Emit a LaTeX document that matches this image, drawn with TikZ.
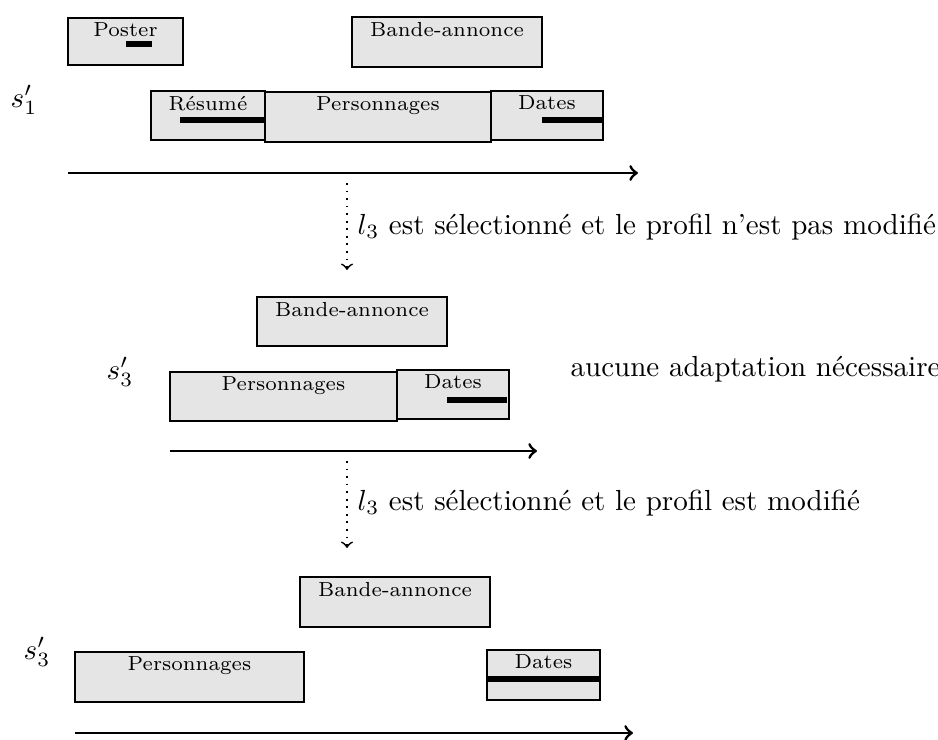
\documentclass[tikz,border=0pt]{standalone}
\usetikzlibrary{positioning}
\tikzset{
  seg/.style={draw=black, fill=gray!20, line width=1pt},
  seglabel/.style={anchor=north, inner sep=1.5pt, font=\fontsize{7}{8}\selectfont},
  bar/.style={fill=black},
  timeline/.style={->, line width=1pt},
  transition/.style={->, dotted, line width=0.6pt},
}
\begin{document}
\begin{tikzpicture}[x=0.3442pt,y=-0.3442pt]
\useasboundingbox (0,0) rectangle (938,740);

% s'_1
\node (sa) at (24,100) {$s'_1$};
\draw[seg] (68,18) rectangle (183,65);
\node[seglabel] (poster) at (125.5,18) {Poster};
\fill[bar] (126,41) rectangle (152,47);
\draw[seg] (352,17) rectangle (542,67);
\node[seglabel] (bandea) at (447,17) {Bande-annonce};
\draw[seg] (151,91) rectangle (265,140);
\node[seglabel] (resume) at (208,91) {Résumé};
\fill[bar] (180,117) rectangle (265,123);
\draw[seg] (265,92) rectangle (491,142);
\node[seglabel] (persa) at (378,92) {Personnages};
\draw[seg] (491,91) rectangle (603,140);
\node[seglabel] (datesa) at (547,91) {Dates};
\fill[bar] (542,117) rectangle (602,123);
\coordinate (ta0) at (68,173);
\coordinate (ta1) at (638,173);
\draw[timeline] (ta0) -- (ta1);

\coordinate (da0) at (347,183);
\coordinate (da1) at (347,270);
\draw[transition] (da0) -- (da1);
\node[anchor=west, inner sep=0pt] (stepa) at (357,227) {$l_3$ est sélectionné et le profil n'est pas modifié};

% s'_3, profil inchange
\node (sb) at (120,372) {$s'_3$};
\draw[seg] (257,297) rectangle (447,346);
\node[seglabel] (bandeb) at (352,297) {Bande-annonce};
\draw[seg] (170,372) rectangle (397,421);
\node[seglabel] (persb) at (283.5,372) {Personnages};
\draw[seg] (397,370) rectangle (509,419);
\node[seglabel] (datesb) at (453,370) {Dates};
\fill[bar] (447,397) rectangle (507,403);
\node[anchor=west, inner sep=0pt] (noadapt) at (570,369) {aucune adaptation nécessaire};
\coordinate (tb0) at (170,451);
\coordinate (tb1) at (537,451);
\draw[timeline] (tb0) -- (tb1);

\coordinate (db0) at (347,461);
\coordinate (db1) at (347,548);
\draw[transition] (db0) -- (db1);
\node[anchor=west, inner sep=0pt] (stepb) at (357,503) {$l_3$ est sélectionné et le profil est modifié};

% s'_3, profil modifie
\node (sc) at (37,652) {$s'_3$};
\draw[seg] (300,577) rectangle (490,627);
\node[seglabel] (bandec) at (395,577) {Bande-annonce};
\draw[seg] (75,652) rectangle (304,702);
\node[seglabel] (persc) at (189.5,652) {Personnages};
\draw[seg] (487,650) rectangle (600,700);
\node[seglabel] (datesc) at (543.5,650) {Dates};
\fill[bar] (488,676) rectangle (599,682);
\coordinate (tc0) at (75,733);
\coordinate (tc1) at (633,733);
\draw[timeline] (tc0) -- (tc1);
\end{tikzpicture}
\end{document}
